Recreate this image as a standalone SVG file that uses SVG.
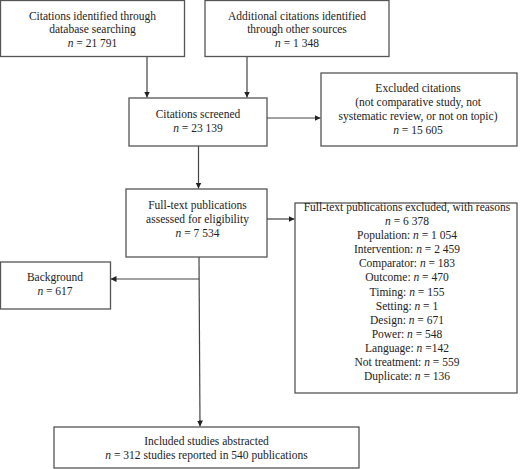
<svg xmlns="http://www.w3.org/2000/svg" width="520" height="469" viewBox="0 0 520 469">
<defs>
<style>
.box{fill:#fff;stroke:#555;stroke-width:1.3}
.ln{fill:none;stroke:#444;stroke-width:1.2}
text{font-family:"Liberation Serif","Times New Roman",serif;font-size:11.5px;fill:#222;text-anchor:middle}
.i{font-style:italic}
</style>
<marker id="ah" viewBox="0 0 10 10" refX="10" refY="5" markerWidth="6" markerHeight="6" orient="auto" markerUnits="userSpaceOnUse">
<path d="M0,0 L10,5 L0,10 z" fill="#222"/>
</marker>
</defs>
<g id="connectors">
<line class="ln" x1="147" y1="57" x2="147" y2="97.5" marker-end="url(#ah)"/>
<line class="ln" x1="247" y1="57" x2="247" y2="97.5" marker-end="url(#ah)"/>
<line class="ln" x1="267" y1="118" x2="320.5" y2="118" marker-end="url(#ah)"/>
<line class="ln" x1="198.5" y1="146" x2="198.5" y2="188.5" marker-end="url(#ah)"/>
<line class="ln" x1="267" y1="219" x2="294.5" y2="219" marker-end="url(#ah)"/>
<line class="ln" x1="199" y1="257" x2="200" y2="426.5" marker-end="url(#ah)"/>
<line class="ln" x1="199" y1="279" x2="110.5" y2="279" marker-end="url(#ah)"/>
</g>
<g id="n1">
<rect class="box" x="0.5" y="0.5" width="184" height="56"/>
<text x="92.5" y="19.5">Citations identified through</text>
<text x="92.5" y="33">database searching</text>
<text x="92.5" y="46.5"><tspan class="i">n</tspan> = 21 791</text>
</g>
<g id="n2">
<rect class="box" x="205" y="0.5" width="184" height="56"/>
<text x="297" y="19.5">Additional citations identified</text>
<text x="297" y="33">through other sources</text>
<text x="297" y="46.5"><tspan class="i">n</tspan> = 1 348</text>
</g>
<g id="n3">
<rect class="box" x="129" y="98" width="138" height="48"/>
<text x="198" y="118">Citations screened</text>
<text x="198" y="131.5"><tspan class="i">n</tspan> = 23 139</text>
</g>
<g id="n4">
<rect class="box" x="321" y="73" width="196" height="73"/>
<text x="418" y="92">Excluded citations</text>
<text x="418" y="106">(not comparative study, not</text>
<text x="418" y="120">systematic review, or not on topic)</text>
<text x="418" y="133.5"><tspan class="i">n</tspan> = 15 605</text>
</g>
<g id="n5">
<rect class="box" x="126" y="189" width="141" height="68"/>
<text x="197.5" y="209">Full-text publications</text>
<text x="197.5" y="223">assessed for eligibility</text>
<text x="197.5" y="236.5"><tspan class="i">n</tspan> = 7 534</text>
</g>
<g id="n6">
<rect class="box" x="295" y="203" width="222" height="190"/>
<text x="407" y="211">Full-text publications excluded, with reasons</text>
<text x="407" y="225.1"><tspan class="i">n</tspan> = 6 378</text>
<text x="407" y="239.2">Population: <tspan class="i">n</tspan> = 1 054</text>
<text x="407" y="253.2">Intervention: <tspan class="i">n</tspan> = 2 459</text>
<text x="407" y="267.3">Comparator: <tspan class="i">n</tspan> = 183</text>
<text x="407" y="281.4">Outcome: <tspan class="i">n</tspan> = 470</text>
<text x="407" y="295.5">Timing: <tspan class="i">n</tspan> = 155</text>
<text x="407" y="309.6">Setting: <tspan class="i">n</tspan> = 1</text>
<text x="407" y="323.6">Design: <tspan class="i">n</tspan> = 671</text>
<text x="407" y="337.7">Power: <tspan class="i">n</tspan> = 548</text>
<text x="407" y="351.8">Language: <tspan class="i">n</tspan> =142</text>
<text x="407" y="365.9">Not treatment: <tspan class="i">n</tspan> = 559</text>
<text x="407" y="380">Duplicate: <tspan class="i">n</tspan> = 136</text>
</g>
<g id="n7">
<rect class="box" x="0.5" y="262" width="110" height="47"/>
<text x="55" y="281">Background</text>
<text x="55" y="295"><tspan class="i">n</tspan> = 617</text>
</g>
<g id="n8">
<rect class="box" x="54" y="427" width="305" height="41"/>
<text x="206.5" y="445">Included studies abstracted</text>
<text x="206.5" y="459"><tspan class="i">n</tspan> = 312 studies reported in 540 publications</text>
</g>
</svg>
